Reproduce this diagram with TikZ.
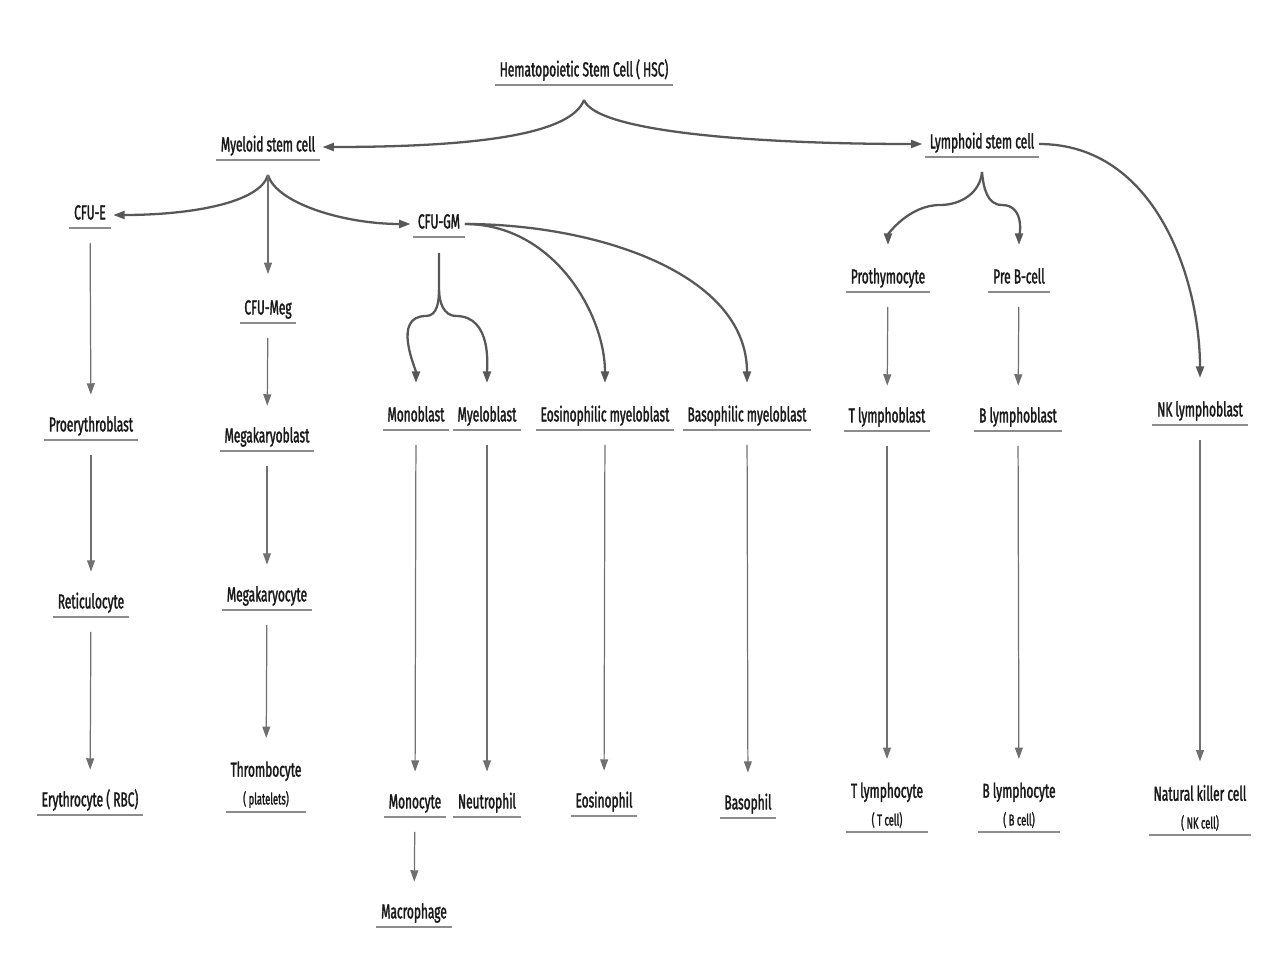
\documentclass[tikz,border=0pt]{standalone}
\usepackage{fontspec}
\setmainfont{Fira Sans}[FakeStretch=0.59, FakeBold=1.6]
\usepackage{tikz}
\usetikzlibrary{arrows.meta}

\definecolor{linegray}{HTML}{585858}
\definecolor{thingray}{HTML}{707070}
\definecolor{ulgray}{HTML}{8C8C8C}

\begin{document}
\begin{tikzpicture}[x=0.02cm, y=0.02cm,
    uline/.style={draw=ulgray, line width=1.1pt},
    cell/.style={anchor=south, text=black!90, font=\fontsize{11.5}{13.8}\selectfont,
        text height=0.75em, text depth=0.25em, inner xsep=2.5pt, inner ysep=2.2pt,
        append after command={(\tikzlastnode.south west) edge[uline] (\tikzlastnode.south east)}},
    cellpair/.style={anchor=south, text=black!90, font=\fontsize{11.5}{13.8}\selectfont,
        align=center, inner xsep=2.5pt, inner ysep=2.2pt,
        append after command={(\tikzlastnode.south west) edge[uline] (\tikzlastnode.south east)}},
    branch/.style={draw=linegray, line width=1.3pt, -{Triangle[length=6.5pt,width=4.5pt]}, shorten >=1.5pt},
    down/.style={draw=thingray, line width=0.7pt, -{Triangle[length=6.5pt,width=4.5pt]},
        shorten <=8.5pt, shorten >=11pt}]
                    \useasboundingbox (0,0) rectangle (1278,-974);
                    % stem cells
                    \node[cell] (hsc) at (584,-85) {Hematopoietic Stem Cell ( HSC)};
                    \node[cell] (msc) at (268,-160) {Myeloid stem cell};
                    \node[cell] (lsc) at (982,-157) {Lymphoid stem cell};
                    % progenitors
                    \node[cell] (cfue) at (90,-228) {CFU-E};
                    \node[cell] (gm) at (439,-237) {CFU-GM};
                    \node[cell] (meg) at (268,-323) {CFU-Meg};
                    \node[cell] (proth) at (888,-292) {Prothymocyte};
                    \node[cell] (preb) at (1019,-292) {Pre B-cell};
                    % blasts
                    \node[cell] (proery) at (91,-440) {Proerythroblast};
                    \node[cell] (mkb) at (267,-451) {Megakaryoblast};
                    \node[cell] (monob) at (416,-430) {Monoblast};
                    \node[cell] (myelob) at (487,-430) {Myeloblast};
                    \node[cell] (eosb) at (605,-430) {Eosinophilic myeloblast};
                    \node[cell] (basob) at (747,-430) {Basophilic myeloblast};
                    \node[cell] (tlb) at (887,-431) {T lymphoblast};
                    \node[cell] (blb) at (1018,-431) {B lymphoblast};
                    \node[cell] (nkb) at (1200,-425) {NK lymphoblast};
                    \node[cell] (retic) at (91,-617) {Reticulocyte};
                    \node[cell] (mkc) at (267,-610) {Megakaryocyte};
                    % mature cells
                    \node[cell] (ery) at (90,-815) {Erythrocyte ( RBC)};
                    \node[cellpair] (thr) at (266,-812) {Thrombocyte\\[2pt]{\fontsize{9}{10.5}\selectfont ( platelets)}};
                    \node[cell] (mono) at (415,-817) {Monocyte};
                    \node[cell] (neut) at (487,-817) {Neutrophil};
                    \node[cell] (eos) at (604,-816) {Eosinophil};
                    \node[cell] (baso) at (748,-818) {Basophil};
                    \node[cellpair] (tlc) at (887,-832) {T lymphocyte\\[2pt]{\fontsize{9}{10.5}\selectfont ( T cell)}};
                    \node[cellpair] (blc) at (1019,-832) {B lymphocyte\\[2pt]{\fontsize{9}{10.5}\selectfont ( B cell)}};
                    \node[cellpair] (nkc) at (1200,-835) {Natural killer cell\\[2pt]{\fontsize{9}{10.5}\selectfont ( NK cell)}};
                    \node[cell] (macro) at (414,-927) {Macrophage};
                    % fork points
                    \coordinate (hscfork) at ([yshift=-8.5pt]hsc.south);
                    \coordinate (mscfork) at ([yshift=-8.5pt]msc.south);
                    \coordinate (lscfork) at ([yshift=-8.5pt]lsc.south);
                    \coordinate (gmtop) at ([yshift=-9pt]gm.south);
                    \coordinate (gmfork) at ([yshift=-30pt]gm.south);
                    % braces
                    \draw[branch] (hscfork) .. controls +(-12,-32) and +(170,0) .. (msc.east);
                    \draw[branch] (hscfork) .. controls +(12,-32) and +(-170,0) .. (lsc.west);
                    \draw[branch] (mscfork) .. controls +(-8,-28) and +(80,0) .. (cfue.east);
                    \draw[branch] (mscfork) .. controls +(8,-28) and +(-70,0) .. (gm.west);
                    \draw[branch, shorten >=12pt] (gm.east) to[out=0, in=90] (eosb.north);
                    \draw[branch, shorten >=12pt] (gm.east) to[out=0, in=90] (basob.north);
                    \draw[branch, shorten >=12pt] (gmtop) -- (gmfork) to[out=-90, in=0] (426,-316) to[out=180, in=90] (monob.north);
                    \draw[branch, shorten >=12pt] (gmfork) to[out=-90, in=180] (456,-316) to[out=0, in=90] (myelob.north);
                    \draw[branch, shorten >=12pt] (lscfork) to[out=-95, in=0] (940,-205) to[out=180, in=90] (proth.north);
                    \draw[branch, shorten >=12pt] (lscfork) to[out=-85, in=180] (1002,-205) to[out=0, in=90] (preb.north);
                    \draw[branch, shorten >=12pt] (lsc.east) to[out=0, in=90] (nkb.north);
                    % straight lines
                    \draw[down, shorten <=0pt, shorten >=13pt] (mscfork) -- (meg.north);
                    \draw[down] (cfue) -- (proery);
                    \draw[down] (proery) -- (retic);
                    \draw[down] (retic) -- (ery);
                    \draw[down] (meg) -- (mkb);
                    \draw[down] (mkb) -- (mkc);
                    \draw[down] (mkc) -- (thr);
                    \draw[down] (monob) -- (mono);
                    \draw[down] (myelob) -- (neut);
                    \draw[down] (eosb) -- (eos);
                    \draw[down] (basob) -- (baso);
                    \draw[down] (mono) -- (macro);
                    \draw[down] (proth) -- (tlb);
                    \draw[down] (preb) -- (blb);
                    \draw[down] (tlb) -- (tlc);
                    \draw[down] (blb) -- (blc);
                    \draw[down] (nkb) -- (nkc);
                \end{tikzpicture}
\end{document}
